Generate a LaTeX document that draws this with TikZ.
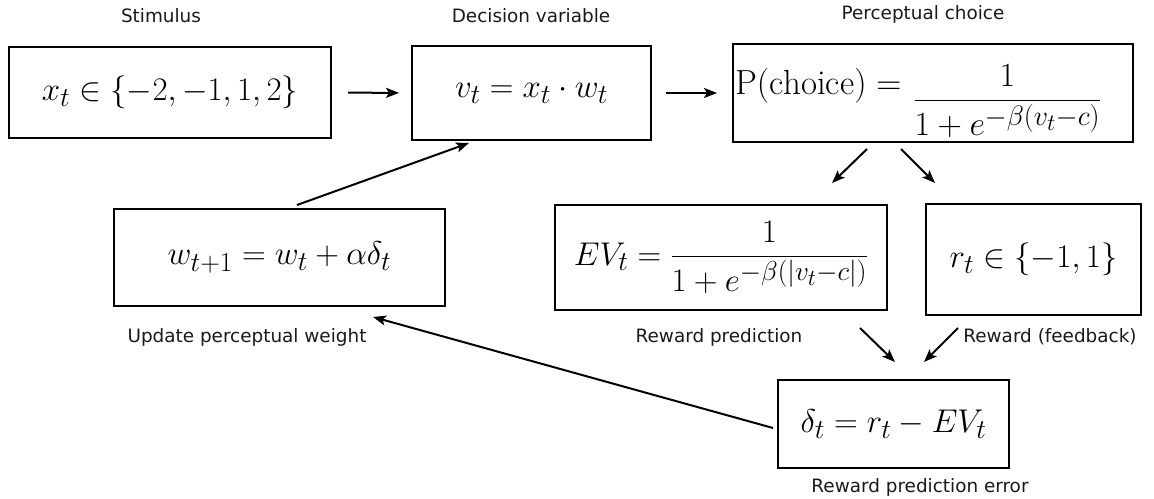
\RequirePackage{fix-cm}
\documentclass[tikz,border=0pt]{standalone}
\usepackage{amsmath}
\usepackage{fontspec}
\newfontfamily\labfont{DejaVu Sans}
\DeclareMathSizes{33}{33}{27.4}{22.9}
\DeclareMathSizes{34}{34}{28.2}{23.5}
\DeclareMathSizes{35}{35}{29}{24}
\usetikzlibrary{arrows.meta}
\tikzset{
  mbox/.style={draw=black, line width=2bp, inner sep=0pt, font=\fontsize{33}{40}\selectfont},
  lab/.style={font=\labfont\fontsize{18.4bp}{22bp}\selectfont, text=black!90, inner sep=0pt},
  arr/.style={line width=2bp, -{Stealth[length=13bp,width=10bp,inset=3bp]}}
}
\begin{document}
\begin{tikzpicture}[x=1bp,y=-1bp]
\useasboundingbox (0,0) rectangle (1154,499);
\node[mbox, minimum width=322bp, minimum height=91bp] (stim) at (170,92.5) {$x_t\in\{-2,-1,1,2\}$};
\node[mbox, minimum width=239bp, minimum height=94bp] (dv) at (531.5,93) {$v_t=x_t\cdot w_t$};
\node[mbox, minimum width=400bp, minimum height=98bp, text height=40bp, text depth=7.5bp] (pc) at (933,93)
  {\makebox[396bp][l]{\raisebox{15bp}{\fontsize{35}{40}\selectfont$\mathrm{P}(\mathrm{choice})=$}\hspace{12bp}{\fontsize{34}{40}\selectfont$\dfrac{1}{1+e^{-\beta(v_t-c)}}$}}};
\node[mbox, minimum width=332bp, minimum height=105bp] (ev) at (721,257.5) {$EV_t=\dfrac{1}{1+e^{-\beta(|v_t-c|)}}$};
\node[mbox, minimum width=215bp, minimum height=111bp] (rw) at (1033.5,259.5) {$r_t\in\{-1,1\}$};
\node[mbox, minimum width=331bp, minimum height=97bp] (wu) at (279.5,257.5) {$w_{t+1}=w_t+\alpha\delta_t$};
\node[mbox, minimum width=231bp, minimum height=88bp] (de) at (893.5,424) {$\delta_t=r_t-EV_t$};

\node[lab] (l1) at (161,16) {Stimulus};
\node[lab] (l2) at (531,16) {Decision variable};
\node[lab] (l3) at (923,14) {Perceptual choice};
\node[lab] (l4) at (247,337) {Update perceptual weight};
\node[lab] (l5) at (719,337) {Reward prediction};
\node[lab] (l6) at (1050,337) {Reward (feedback)};
\node[lab] (l7) at (920,487) {Reward prediction error};

\draw[arr, shorten <=16bp, shorten >=12bp] (stim.east) -- (dv.west);
\draw[arr, shorten <=14bp, shorten >=15bp] (dv.east) -- (pc.west);

\coordinate (a1s) at (867,149); \coordinate (a1e) at (832,183);
\coordinate (a2s) at (901,149); \coordinate (a2e) at (935,183);
\coordinate (a3s) at (297,205); \coordinate (a3e) at (469,143);
\coordinate (a4s) at (860,328); \coordinate (a4e) at (895,362);
\coordinate (a5s) at (958,328); \coordinate (a5e) at (924,362);
\coordinate (a6s) at (773,428); \coordinate (a6e) at (373,317);
\draw[arr] (a1s) -- (a1e);
\draw[arr] (a2s) -- (a2e);
\draw[arr] (a3s) -- (a3e);
\draw[arr] (a4s) -- (a4e);
\draw[arr] (a5s) -- (a5e);
\draw[arr] (a6s) -- (a6e);
\end{tikzpicture}
\end{document}
